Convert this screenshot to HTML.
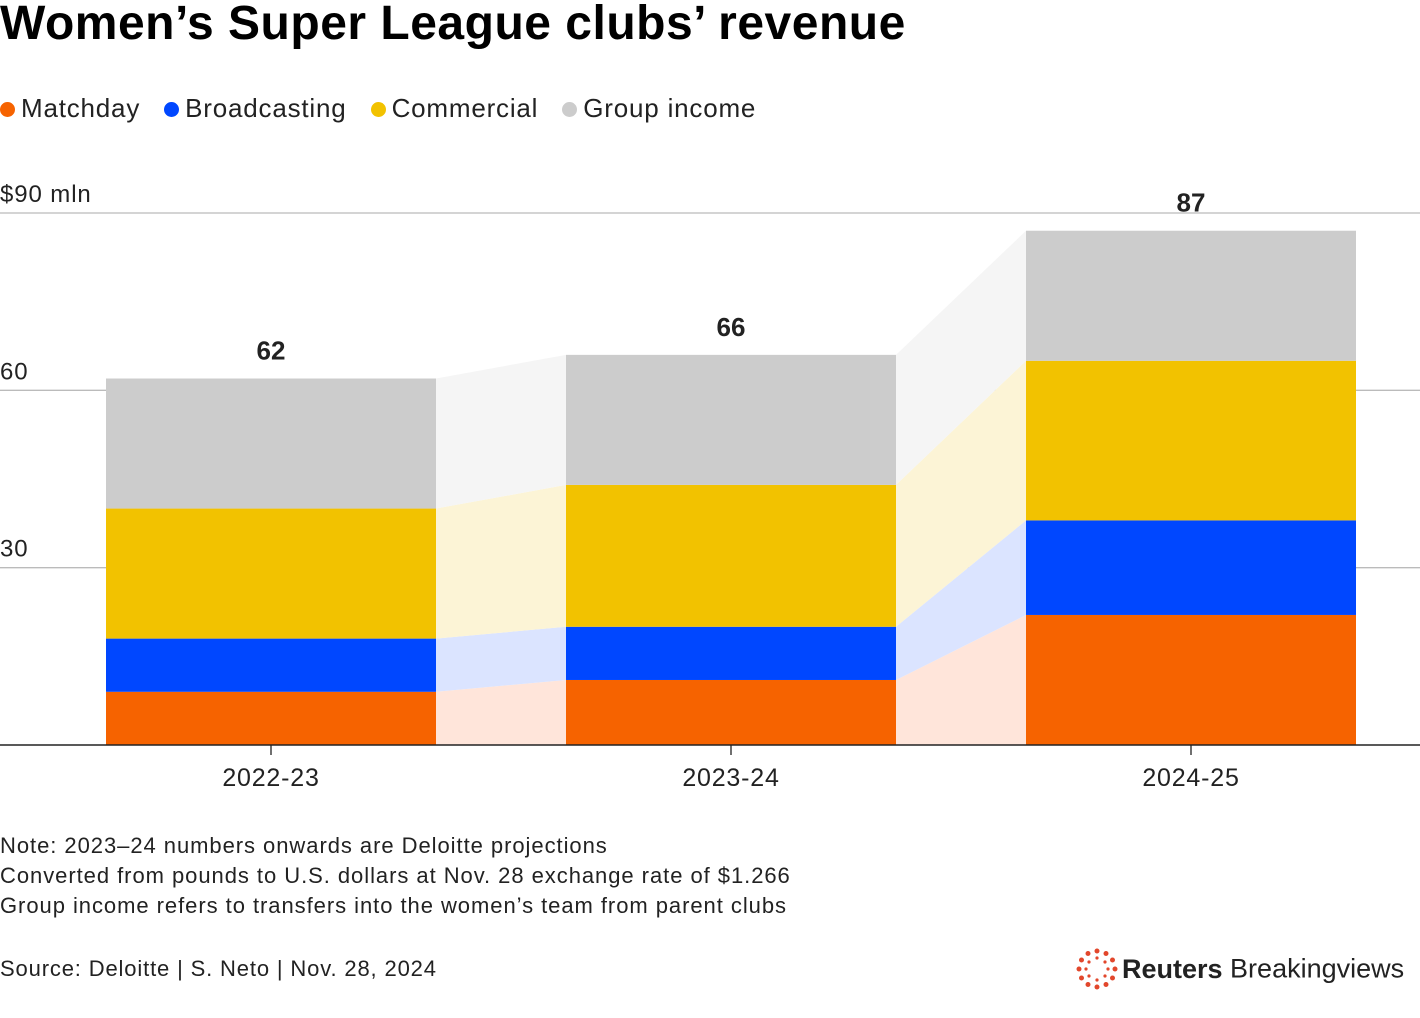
<!DOCTYPE html>
<html><head><meta charset="utf-8"><style>
body{margin:0;width:1420px;height:1018px;background:#fff;font-family:"Liberation Sans",sans-serif;overflow:hidden;position:relative;color:#000}
.t{position:absolute;white-space:nowrap}
</style></head><body>
<div class="t" style="left:0;top:-4px;font-size:48px;font-weight:bold;letter-spacing:0.5px">Women’s Super League clubs’ revenue</div>
<div class="t" style="left:0;top:93px;font-size:26px;letter-spacing:0.8px;color:#222">
<span><span style="display:inline-block;width:15px;height:15px;border-radius:50%;background:#f66300;margin-right:6px"></span>Matchday</span>
<span style="margin-left:16px"><span style="display:inline-block;width:15px;height:15px;border-radius:50%;background:#0047ff;margin-right:6px"></span>Broadcasting</span>
<span style="margin-left:16px"><span style="display:inline-block;width:15px;height:15px;border-radius:50%;background:#f2c200;margin-right:6px"></span>Commercial</span>
<span style="margin-left:16px"><span style="display:inline-block;width:15px;height:15px;border-radius:50%;background:#ccc;margin-right:6px"></span>Group income</span>
</div>
<svg id="chart" width="1420" height="1018" style="position:absolute;left:0;top:0"></svg>
<div class="t" style="left:0;top:831px;font-size:22px;letter-spacing:0.95px;line-height:30px;color:#222">Note: 2023–24 numbers onwards are Deloitte projections<br>Converted from pounds to U.S. dollars at Nov. 28 exchange rate of $1.266<br>Group income refers to transfers into the women’s team from parent clubs</div>
<div class="t" style="left:0;top:956px;font-size:22px;letter-spacing:0.85px;color:#222">Source: Deloitte | S. Neto | Nov. 28, 2024</div>
<div class="t" style="left:1076px;top:948px;height:42px;font-size:27px;color:#222">
<svg width="42" height="42" style="vertical-align:middle"><g fill="#e2472c">
<circle cx="21" cy="3" r="2.5"/><circle cx="30" cy="5.5" r="2.5"/><circle cx="36.5" cy="12" r="2.5"/><circle cx="39" cy="21" r="2.5"/><circle cx="36.5" cy="30" r="2.5"/><circle cx="30" cy="36.5" r="2.5"/><circle cx="21" cy="39" r="2.5"/><circle cx="12" cy="36.5" r="2.5"/><circle cx="5.5" cy="30" r="2.5"/><circle cx="3" cy="21" r="2.5"/><circle cx="5.5" cy="12" r="2.5"/><circle cx="12" cy="5.5" r="2.5"/>
<circle cx="21" cy="10" r="1.6"/><circle cx="29" cy="14" r="1.6"/><circle cx="32" cy="21" r="1.6"/><circle cx="29" cy="28" r="1.6"/><circle cx="21" cy="32" r="1.6"/><circle cx="13" cy="28" r="1.6"/><circle cx="10" cy="21" r="1.6"/><circle cx="13" cy="14" r="1.6"/></g></svg><b style="vertical-align:middle;margin-left:4px">Reuters</b><span style="vertical-align:middle"> Breakingviews</span></div>
<script>
const categories=["2022-23","2023-24","2024-25"];
const matchday=[9,11,22];
const broadcasting=[9,9,16];
const commercial=[22,24,27];
const groupIncome=[22,22,22];
const totals=["62","66","87"];
const ticks=[30,60,90];
const colors=["#f66300","#0047ff","#f2c200","#cccccc"];
const light=["#ffe5da","#dbe4ff","#fcf4d6","#f5f5f5"];
const series=[matchday,broadcasting,commercial,groupIncome];
const NS="http://www.w3.org/2000/svg";
const svg=document.getElementById('chart');
const y=v=>745-v*(532/90);
const bx=i=>106+i*460, bw=330;
function mk(t,a){const e=document.createElementNS(NS,t);for(const k in a)e.setAttribute(k,a[k]);svg.appendChild(e);return e;}
ticks.forEach(t=>{const l=mk('line',{x1:0,x2:1420,y1:y(t),y2:y(t),stroke:'#bbb','stroke-width':1.3});


const tx=mk('text',{x:0,y:y(t)-11,'font-size':24,'letter-spacing':0.9,fill:'#222','font-family':'Liberation Sans'});tx.textContent=t===90?'$90 mln':t;

});
const cum=categories.map((c,i)=>{let s=0;return series.map(a=>{const b=s;s+=a[i];return [b,s];});});
for(let i=0;i<categories.length-1;i++){series.forEach((a,k)=>{const x1=bx(i)+bw,x2=bx(i+1);const p=mk('polygon',{points:`${x1},${y(cum[i][k][0])} ${x2},${y(cum[i+1][k][0])} ${x2},${y(cum[i+1][k][1])} ${x1},${y(cum[i][k][1])}`,fill:light[k]});

});}
categories.forEach((c,i)=>{series.forEach((a,k)=>{const r=mk('rect',{x:bx(i),width:bw,y:y(cum[i][k][1]),height:y(cum[i][k][0])-y(cum[i][k][1]),fill:colors[k]});

});
const tot=cum[i][3][1];
const t=mk('text',{x:bx(i)+bw/2,y:y(tot)-19,'text-anchor':'middle','font-size':26,'font-weight':'bold',fill:'#222','font-family':'Liberation Sans'});t.textContent=totals[i];


mk('line',{x1:bx(i)+bw/2,x2:bx(i)+bw/2,y1:745,y2:755,stroke:'#222','stroke-width':1.3});
const xl=mk('text',{x:bx(i)+bw/2,y:786,'text-anchor':'middle','font-size':25,'letter-spacing':0.8,fill:'#222','font-family':'Liberation Sans'});xl.textContent=c;

});
const ax=mk('line',{x1:0,x2:1420,y1:745,y2:745,stroke:'#222','stroke-width':1.5});


</script>
</body></html>
